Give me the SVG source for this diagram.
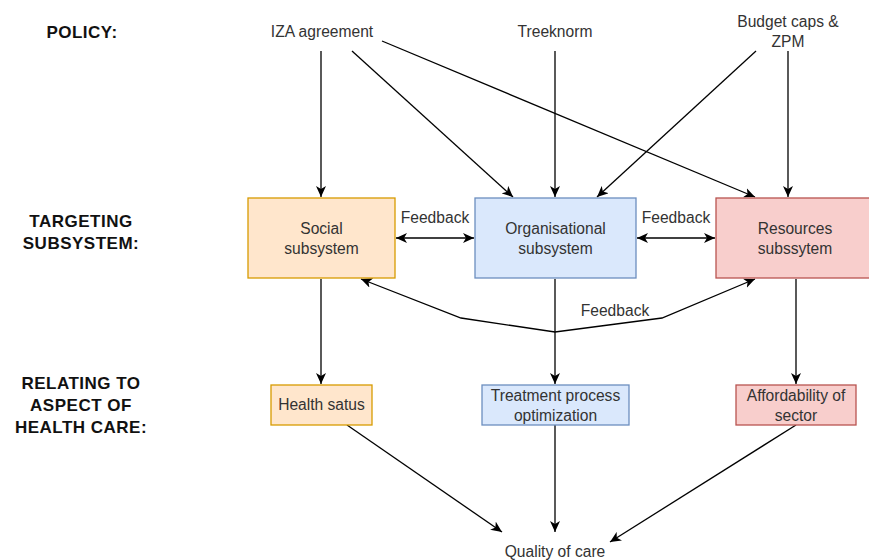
<svg xmlns="http://www.w3.org/2000/svg" width="869" height="560" viewBox="0 0 869 560">
<style>
.t{font-family:"Liberation Sans",Arial,sans-serif;font-size:15.6px;fill:#333;text-anchor:middle}
.h{font-family:"Liberation Sans",Arial,sans-serif;font-size:17px;font-weight:bold;fill:#111;text-anchor:middle;letter-spacing:0.5px}
.c{fill:none;stroke:#000;stroke-width:1.3}
.o{fill:#ffe6cc;stroke:#d79b00;stroke-width:1.3}
.b{fill:#dae8fc;stroke:#6c8ebf;stroke-width:1.3}
.r{fill:#f8cecc;stroke:#b85450;stroke-width:1.3}
</style>
<defs>
<marker id="a" markerWidth="12" markerHeight="10" refX="11" refY="5" orient="auto-start-reverse" markerUnits="userSpaceOnUse">
<path d="M0,0 L11,5 L0,10 L3,5 z" fill="#000"/>
</marker>
</defs>
<rect width="869" height="560" fill="#fff"/>
<g id="labels">
<text class="h" x="82" y="38">POLICY:</text>
<text class="h" x="81" y="227">TARGETING</text>
<text class="h" x="81" y="249">SUBSYSTEM:</text>
<text class="h" x="81" y="389">RELATING TO</text>
<text class="h" x="81" y="411">ASPECT OF</text>
<text class="h" x="81" y="433">HEALTH CARE:</text>
</g>
<g id="connectors">
<path class="c" d="M321,51 V197" marker-end="url(#a)"/>
<path class="c" d="M352,51 L513,197" marker-end="url(#a)"/>
<path class="c" d="M382,41 L755,197" marker-end="url(#a)"/>
<path class="c" d="M555,51 V197" marker-end="url(#a)"/>
<path class="c" d="M756,51 L597,197" marker-end="url(#a)"/>
<path class="c" d="M788,51 V197" marker-end="url(#a)"/>
<path class="c" d="M396,238 H474" marker-start="url(#a)" marker-end="url(#a)"/>
<path class="c" d="M637,238 H715" marker-start="url(#a)" marker-end="url(#a)"/>
<path class="c" d="M755,279 L662,318 L555,332 L461,318 L361,279" marker-start="url(#a)" marker-end="url(#a)"/>
<path class="c" d="M321,279 V384" marker-end="url(#a)"/>
<path class="c" d="M555,279 V384" marker-end="url(#a)"/>
<path class="c" d="M796,279 V384" marker-end="url(#a)"/>
<path class="c" d="M347,425 L502,532" marker-end="url(#a)"/>
<path class="c" d="M555,425 V532" marker-end="url(#a)"/>
<path class="c" d="M796,425 L610,542" marker-end="url(#a)"/>
<text class="t" x="435" y="223">Feedback</text>
<text class="t" x="676" y="223">Feedback</text>
<text class="t" x="615" y="316">Feedback</text>
</g>
<g id="iza"><text class="t" x="322" y="37">IZA agreement</text></g>
<g id="treeknorm"><text class="t" x="555" y="37">Treeknorm</text></g>
<g id="budget"><text class="t" x="788" y="27">Budget caps &amp;</text><text class="t" x="788" y="47">ZPM</text></g>
<g id="social"><rect class="o" x="248" y="198" width="147" height="80"/><text class="t" x="321.5" y="233.5">Social</text><text class="t" x="321.5" y="253.5">subsystem</text></g>
<g id="organisational"><rect class="b" x="475" y="198" width="161" height="80"/><text class="t" x="555.5" y="233.5">Organisational</text><text class="t" x="555.5" y="253.5">subsystem</text></g>
<g id="resources"><rect class="r" x="716" y="198" width="158" height="80"/><text class="t" x="795" y="234">Resources</text><text class="t" x="795" y="254">subssytem</text></g>
<g id="health"><rect class="o" x="271" y="385" width="101" height="40"/><text class="t" x="321.5" y="410">Health satus</text></g>
<g id="treatment"><rect class="b" x="482" y="385" width="147" height="40"/><text class="t" x="555.5" y="400.5">Treatment process</text><text class="t" x="555.5" y="420.5">optimization</text></g>
<g id="affordability"><rect class="r" x="736" y="385" width="120" height="40"/><text class="t" x="796" y="400.5">Affordability of</text><text class="t" x="796" y="420.5">sector</text></g>
<g id="quality"><text class="t" x="555" y="557">Quality of care</text></g>
</svg>
